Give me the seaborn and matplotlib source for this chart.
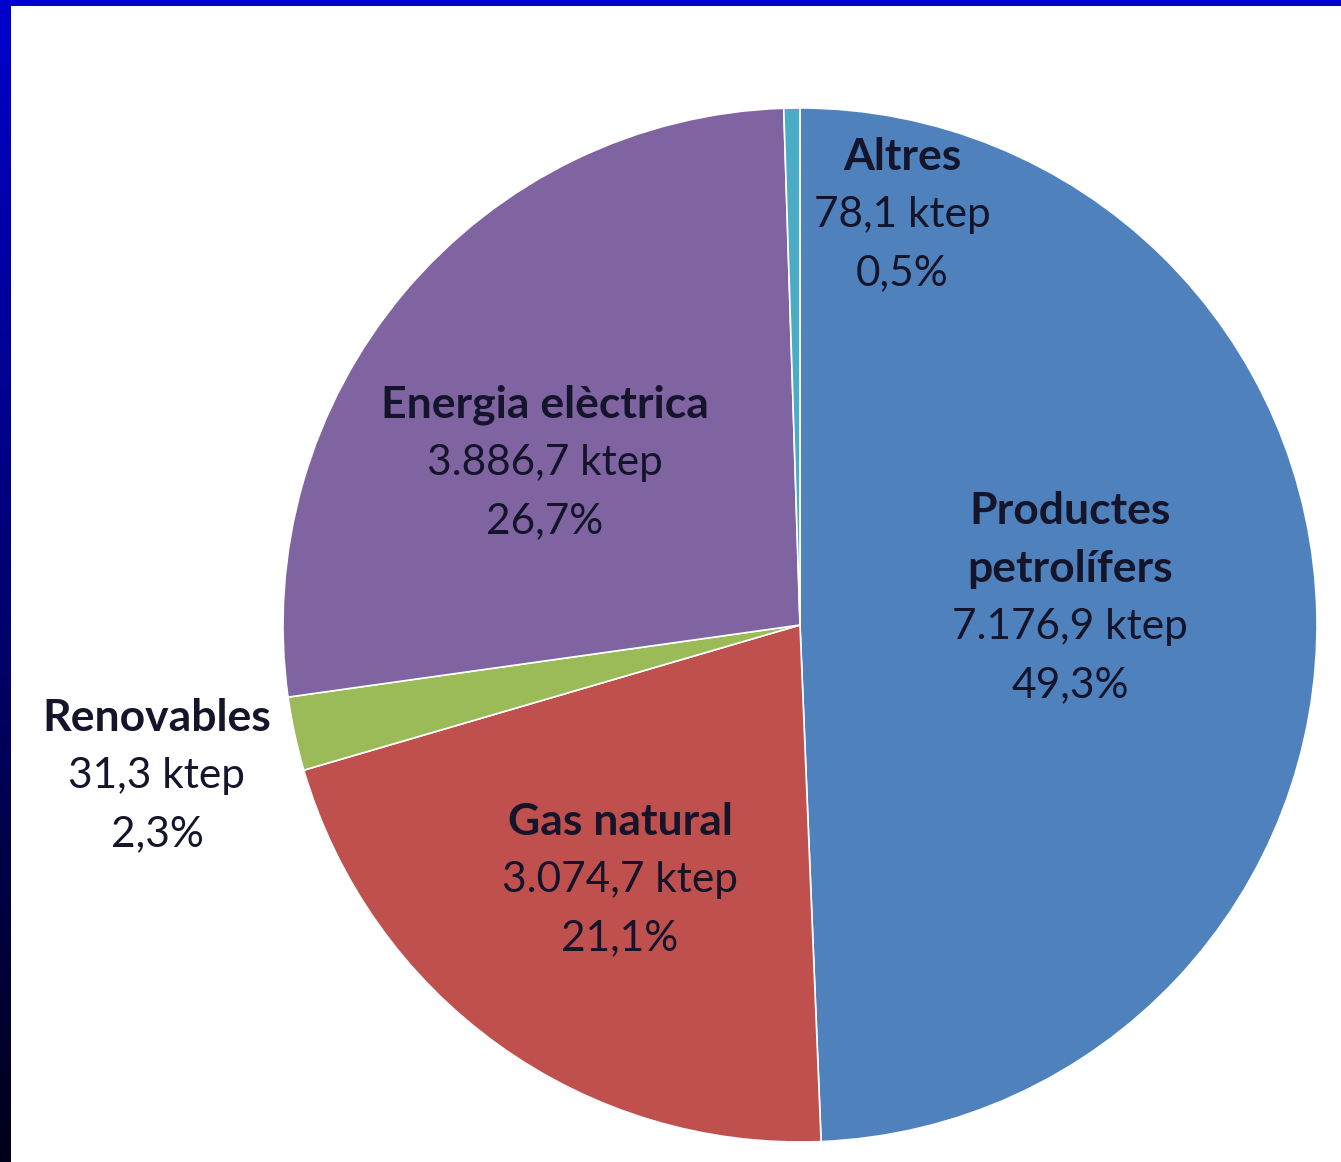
import numpy as np
import matplotlib
matplotlib.use("Agg")
import matplotlib.pyplot as plt
from matplotlib.patches import Rectangle
import seaborn as sns

# Final energy consumption by source
categories = ["Productes\npetrolífers", "Gas natural", "Renovables", "Energia elèctrica", "Altres"]
ktep = [7176.9, 3074.7, 31.3, 3886.7, 78.1]
shares = [49.3, 21.1, 2.3, 26.7, 0.5]
colors = ["#4F81BD", "#C0504D", "#9BBB59", "#8064A2", "#4BACC6"]

sns.set_theme(style="white")
plt.rcParams["font.family"] = ["Lato", "DejaVu Sans"]

W, H = 1341, 1162
fig = plt.figure(figsize=(W / 100, H / 100), dpi=100)
fig.patch.set_facecolor("white")

ax = fig.add_axes([0, 0, 1, 1])
ax.set_facecolor("white")

cx, cy, r = 800, H - 625, 517
ax.pie(shares, colors=colors, startangle=90, counterclock=False,
       center=(cx, cy), radius=r,
       wedgeprops=dict(edgecolor="white", linewidth=1.2))
ax.set_xlim(0, W)
ax.set_ylim(0, H)
ax.set_aspect("equal", adjustable="box")
ax.axis("off")


def fmt_num(v):
    s = f"{v:,.1f}"
    return s.replace(",", "X").replace(".", ",").replace("X", ".")


# label anchor (x, y of first line, in pixels from top)
label_pos = [(1070, 511), (620, 822), (157, 718), (545, 405), (902, 157)]
line_h = 58
txt_col = "#14142a"
fs_name, fs_val = 32, 30.5
for name, v, p, (lx, ly) in zip(categories, ktep, shares, label_pos):
    lines = name.split("\n")
    y = ly
    for ln in lines:
        ax.text(lx, H - y, ln, ha="center", va="center", fontsize=fs_name,
                fontweight="bold", color=txt_col)
        y += line_h
    ax.text(lx, H - y, f"{fmt_num(v)} ktep", ha="center", va="center",
            fontsize=fs_val, color=txt_col)
    y += line_h
    ax.text(lx, H - y, f"{fmt_num(p)}%", ha="center", va="center",
            fontsize=fs_val, color=txt_col)

# slide frame: blue top band and a dark gradient on the left edge
fig.patches.append(Rectangle((0, 1 - 6 / H), 1, 6 / H, transform=fig.transFigure,
                             facecolor="#0000CC", edgecolor="none", zorder=10))
gax = fig.add_axes([0, 0, 11 / W, 1 - 6 / H])
grad = np.linspace(0, 1, 256)[:, None]
top = np.array([0.0, 0.0, 0.80])
bot = np.array([0.0, 0.0, 0.10])
img = (top[None, None, :] * (1 - grad[:, :, None]) + bot[None, None, :] * grad[:, :, None])
gax.imshow(img, aspect="auto", extent=(0, 1, 0, 1))
gax.axis("off")

fig.savefig("out.png", dpi=100, facecolor="white")
